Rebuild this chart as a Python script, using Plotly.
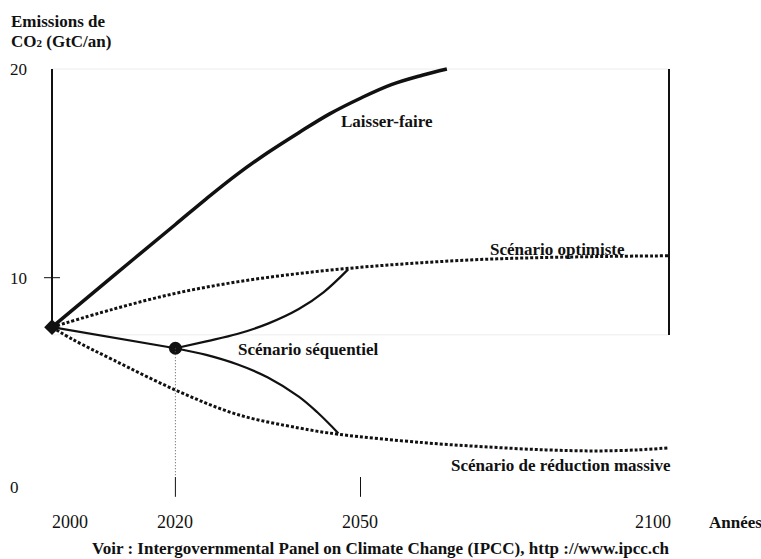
import plotly.graph_objects as go

# ---- data ----
lf_years = [2000, 2010, 2020, 2025, 2030, 2035, 2040, 2045, 2050, 2055, 2060, 2064]
lf_vals = [7.63, 10.1, 12.55, 13.78, 14.95, 16.0, 16.95, 17.85, 18.6, 19.25, 19.7, 20.0]

opt_years = [2000, 2010, 2020, 2030, 2040, 2050, 2060, 2070, 2080, 2090, 2100]
opt_vals = [7.63, 8.5, 9.25, 9.8, 10.2, 10.5, 10.72, 10.88, 10.97, 11.02, 11.05]

seq_common_years = [2000, 2020]
seq_common_vals = [7.63, 6.62]
seq_up_years = [2020, 2025, 2030, 2035, 2040, 2044, 2048]
seq_up_vals = [6.62, 6.95, 7.3, 7.8, 8.5, 9.3, 10.4]
seq_down_years = [2020, 2025, 2030, 2035, 2040, 2043, 2046.4]
seq_down_vals = [6.62, 6.3, 5.85, 5.22, 4.3, 3.55, 2.55]

red_years = [2000, 2003.5, 2010, 2020, 2030, 2040, 2046.4, 2060, 2070, 2080, 2088, 2095, 2100]
red_vals = [7.63, 7.02, 6.05, 4.62, 3.45, 2.8, 2.5, 2.1, 1.9, 1.75, 1.7, 1.75, 1.85]

x_tick_years = [2000, 2020, 2050, 2100]
x_tick_labels = ["2000", "2020", "2050", "2100"]
y_tick_vals = [20, 10, 0]
y_tick_labels = ["20", "10", "0"]

start_year, start_val = 2000, 7.63
decision_year, decision_val = 2020, 6.62

W, H = 761, 559
# pixel mapping of the reference frame
PX_X0, PX_PER_YEAR = 52.0, 6.17
PX_Y0, PX_PER_UNIT = 486.4, 20.87
x_range = [2000 - PX_X0 / PX_PER_YEAR, 2000 + (W - PX_X0) / PX_PER_YEAR]
y_range = [-(H - PX_Y0) / PX_PER_UNIT, PX_Y0 / PX_PER_UNIT]

INK = "#111111"
FONT = "Liberation Serif, Times New Roman, DejaVu Serif, serif"

def px(xp, yp):
    return xp / W, 1 - yp / H

fig = go.Figure()

# laisser-faire
fig.add_trace(go.Scatter(x=lf_years, y=lf_vals, mode="lines",
                         line=dict(color=INK, width=3.5, shape="spline", smoothing=1.0), hoverinfo="skip"))
# optimiste
fig.add_trace(go.Scatter(x=opt_years, y=opt_vals, mode="lines",
                         line=dict(color=INK, width=3, dash="3px,2px", shape="spline"), hoverinfo="skip"))
# réduction massive
fig.add_trace(go.Scatter(x=red_years, y=red_vals, mode="lines",
                         line=dict(color=INK, width=3, dash="3px,2px", shape="spline"), hoverinfo="skip"))
# séquentiel
for xs, ys in [(seq_common_years, seq_common_vals), (seq_up_years, seq_up_vals), (seq_down_years, seq_down_vals)]:
    fig.add_trace(go.Scatter(x=xs, y=ys, mode="lines",
                             line=dict(color=INK, width=2.2, shape="spline"), hoverinfo="skip"))

# markers
fig.add_trace(go.Scatter(x=[decision_year], y=[decision_val], mode="markers",
                         marker=dict(color=INK, size=13, symbol="circle"), hoverinfo="skip"))
fig.add_trace(go.Scatter(x=[start_year], y=[start_val], mode="markers",
                         marker=dict(color=INK, size=12, symbol="diamond"), hoverinfo="skip"))

shapes = []
top = max(y_tick_vals)
frame_bottom = 7.26
# faint frame lines
for yv in [top, frame_bottom]:
    shapes.append(dict(type="line", x0=2000, x1=2100, y0=yv, y1=yv,
                       line=dict(color="#ececec", width=1), layer="below"))
# left axis
shapes.append(dict(type="line", x0=2000, x1=2000, y0=top, y1=7.5, line=dict(color=INK, width=2)))
# right line
shapes.append(dict(type="line", x0=2100, x1=2100, y0=top, y1=frame_bottom, line=dict(color=INK, width=2)))
# y tick at 10
shapes.append(dict(type="line", x0=2000 - 1.3, x1=2000 + 1.3, y0=10, y1=10, line=dict(color=INK, width=1)))
# x ticks
for yr in [2020, 2050]:
    shapes.append(dict(type="line", x0=yr, x1=yr, y0=0.45, y1=-0.5, line=dict(color=INK, width=1)))
# dotted drop line from decision point
shapes.append(dict(type="line", x0=decision_year, x1=decision_year, y0=decision_val, y1=0.45,
                   line=dict(color="#555555", width=1, dash="1px,2px")))

annotations = []
def add_px_text(text, xp, yp, anchor="center", bold=False, size=17):
    x, y = px(xp, yp)
    annotations.append(dict(text=f"<b>{text}</b>" if bold else text, x=x, y=y, xref="paper", yref="paper",
                            xanchor=anchor, yanchor="middle", showarrow=False,
                            font=dict(family=FONT, size=size, color=INK)))

add_px_text("Emissions de", 9, 21, anchor="left", bold=True)
add_px_text("CO<span style='font-size:11px'>2</span> (GtC/an)", 9, 41, anchor="left", bold=True)
for v, lab in zip(y_tick_vals, y_tick_labels):
    add_px_text(lab, 8, PX_Y0 - v * PX_PER_UNIT + 1, anchor="left")
x_label_px = {2000: 70, 2020: 175, 2050: 360, 2100: 653}
for yr, lab in zip(x_tick_years, x_tick_labels):
    add_px_text(lab, x_label_px[yr], 522, size=18)
add_px_text("Années", 735, 522, bold=True)
add_px_text("Voir : Intergovernmental Panel on Climate Change (IPCC), http ://www.ipcc.ch", 381, 548, bold=True)

def add_data_text(text, x, y):
    annotations.append(dict(text=f"<b>{text}</b>", x=x, y=y, xref="x", yref="y",
                            xanchor="center", yanchor="middle", showarrow=False,
                            font=dict(family=FONT, size=17, color=INK)))

add_data_text("Laisser-faire", 2054.3, 17.5)
add_data_text("Scénario optimiste", 2082.0, 11.33)
add_data_text("Scénario séquentiel", 2041.6, 6.54)
add_data_text("Scénario de réduction massive", 2082.5, 0.98)

fig.update_layout(
    width=W, height=H, margin=dict(l=0, r=0, t=0, b=0),
    paper_bgcolor="white", plot_bgcolor="white", showlegend=False,
    font=dict(family=FONT, color=INK),
    xaxis=dict(range=x_range, visible=False, fixedrange=True),
    yaxis=dict(range=y_range, visible=False, fixedrange=True),
    shapes=shapes, annotations=annotations,
)

fig.write_html("out.html", config={"displayModeBar": False},
               post_script="document.body.style.margin='0';document.body.style.padding='0';")
